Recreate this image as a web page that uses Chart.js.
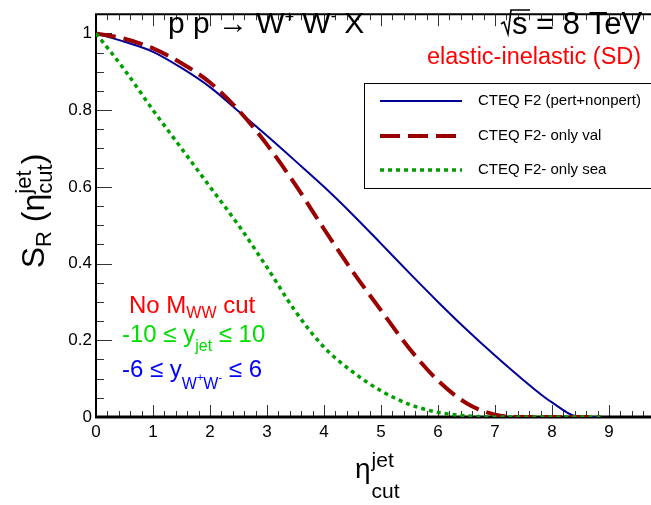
<!DOCTYPE html>
<html>
<head>
<meta charset="utf-8">
<script src="https://cdn.jsdelivr.net/npm/chart.js@4/dist/chart.umd.min.js"></script>
<style>
  html, body { margin: 0; padding: 0; background: #fff; overflow: hidden; }
  #wrap { width: 680px; height: 505px; position: relative; }
</style>
</head>
<body>
<div id="wrap"><canvas id="chart"></canvas></div>
<script>
// eta_cut values (x)
const ETA_CUT = [0, 0.5, 1, 1.5, 2, 2.5, 3, 3.5, 4, 4.5, 5, 5.5, 6, 6.5, 7, 7.5, 8, 8.5, 8.85];

// S_R for each PDF variant
const S_PERT = [1.0, 0.978, 0.952, 0.91, 0.86, 0.797, 0.733, 0.667, 0.600, 0.528, 0.452, 0.375, 0.300, 0.228, 0.160, 0.096, 0.038, 0, 0];
const S_VAL  = [1.0, 0.986, 0.961, 0.922, 0.872, 0.80, 0.71, 0.605, 0.49, 0.38, 0.278, 0.178, 0.095, 0.036, 0.006, 0, 0, 0, 0];
const S_SEA  = [1.0, 0.905, 0.80, 0.70, 0.60, 0.50, 0.39, 0.275, 0.182, 0.118, 0.068, 0.033, 0.012, 0.003, 0, 0, 0, 0, 0];

const LEGEND_LABELS = ['CTEQ F2 (pert+nonpert)', 'CTEQ F2- only val', 'CTEQ F2- only sea'];

const FONT = '"Liberation Sans", Arial, sans-serif';

function pts(ys) { return ETA_CUT.map((x, i) => ({ x, y: ys[i] })); }

// draws a row of text pieces (for sub/superscripts), returns end x
function runs(ctx, x, y, parts, color) {
  for (const p of parts) {
    ctx.font = `${p.size}px ${FONT}`;
    ctx.fillStyle = p.color || color;
    ctx.fillText(p.t, x, y + (p.dy || 0));
    if (!p.noAdvance) x += ctx.measureText(p.t).width;
  }
  return x;
}
function runsWidth(ctx, parts) {
  let w = 0;
  for (const p of parts) {
    ctx.font = `${p.size}px ${FONT}`;
    if (!p.noAdvance) w += ctx.measureText(p.t).width;
  }
  return w;
}

const deco = {
  id: 'deco',
  beforeDatasetsDraw(chart) {
    const ctx = chart.ctx;
    const { left, right, top, bottom } = chart.chartArea;
    const xs = chart.scales.x, ys = chart.scales.y;
    ctx.save();
    // ticks (ROOT style, inside frame)
    ctx.strokeStyle = '#333';
    ctx.lineWidth = 1;
    ctx.beginPath();
    for (let i = 0; i <= 50; i++) {
      const px = Math.round(xs.getPixelForValue(i / 5)) + 0.5;
      const len = i % 5 === 0 ? 12 : 6;
      ctx.moveTo(px, bottom); ctx.lineTo(px, bottom - len);
      ctx.moveTo(px, top); ctx.lineTo(px, top + len);
    }
    for (let i = 0; i <= 21; i++) {
      const py = Math.round(ys.getPixelForValue(i * 0.05)) + 0.5;
      const len = i % 4 === 0 ? 16 : 8;
      ctx.moveTo(left, py); ctx.lineTo(left + len, py);
    }
    ctx.stroke();
    // frame
    ctx.strokeStyle = '#000';
    ctx.lineWidth = 2;
    ctx.beginPath();
    ctx.moveTo(left, bottom); ctx.lineTo(left, top); ctx.lineTo(right, top);
    ctx.stroke();
    ctx.lineWidth = 3;
    ctx.beginPath();
    ctx.moveTo(left - 1, bottom); ctx.lineTo(right, bottom);
    ctx.stroke();
    ctx.restore();
  },
  afterDraw(chart) {
    const ctx = chart.ctx;
    ctx.save();
    ctx.textBaseline = 'alphabetic';
    ctx.textAlign = 'left';

    // process label
    runs(ctx, 168, 33, [
      { t: 'p p \u2192 W', size: 30 },
      { t: '+', size: 16, dy: -11 },
      { t: ' W', size: 30 },
      { t: '-', size: 16, dy: -12 },
      { t: ' X', size: 30 }
    ], '#000');

    // sqrt(s) = 8 TeV
    ctx.strokeStyle = '#000';
    ctx.lineWidth = 1.6;
    ctx.beginPath();
    ctx.moveTo(501, 24); ctx.lineTo(504, 22); ctx.lineTo(508, 34);
    ctx.lineTo(511, 10); ctx.lineTo(530, 10);
    ctx.stroke();
    runs(ctx, 512, 34, [{ t: 's = 8 TeV', size: 31 }], '#000');

    runs(ctx, 427, 64, [{ t: 'elastic-inelastic (SD)', size: 23.5 }], '#ff0000');

    // cuts text
    runs(ctx, 129, 313, [
      { t: 'No M', size: 24 },
      { t: 'WW', size: 16, dy: 5 },
      { t: ' cut', size: 24 }
    ], '#ff0000');
    runs(ctx, 122, 342, [
      { t: '-10 \u2264 y', size: 24 },
      { t: 'jet', size: 16, dy: 9 },
      { t: ' \u2264 10', size: 24 }
    ], '#00dd00');
    runs(ctx, 122, 377, [
      { t: '-6 \u2264 y', size: 24 },
      { t: 'W', size: 16, dy: 12 },
      { t: '+', size: 11, dy: 4 },
      { t: 'W', size: 16, dy: 12 },
      { t: '-', size: 11, dy: 4 },
      { t: ' \u2264 6', size: 24 }
    ], '#0000ff');

    // legend
    ctx.strokeStyle = '#000';
    ctx.lineWidth = 1;
    ctx.strokeRect(364.5, 83.5, 300, 105);
    const rowsY = [101, 136, 170];
    chart.data.datasets.forEach((ds, i) => {
      ctx.save();
      ctx.strokeStyle = ds.borderColor;
      ctx.lineWidth = ds.borderWidth;
      ctx.setLineDash(ds.borderDash || []);
      ctx.beginPath();
      ctx.moveTo(380, rowsY[i]); ctx.lineTo(462, rowsY[i]);
      ctx.stroke();
      ctx.restore();
      ctx.textBaseline = 'middle';
      runs(ctx, 478, rowsY[i], [{ t: LEGEND_LABELS[i], size: 15 }], '#000');
      ctx.textBaseline = 'alphabetic';
    });

    // x title
    let xe = runs(ctx, 355, 478, [{ t: '\u03b7', size: 28 }], '#000');
    runs(ctx, xe + 1, 467, [{ t: 'jet', size: 21 }], '#000');
    runs(ctx, xe + 1, 498, [{ t: 'cut', size: 21 }], '#000');

    // y title, rotated
    const yParts = [
      { t: 'S', size: 32 },
      { t: 'R', size: 22, dy: 7 },
      { t: ' (', size: 32 },
      { t: '\u03b7', size: 32 },
      { t: 'jet', size: 22, dy: -13, noAdvance: true },
      { t: 'cut', size: 22, dy: 8 },
      { t: ')', size: 32 }
    ];
    const w = runsWidth(ctx, yParts);
    ctx.translate(44, 211 + w / 2);
    ctx.rotate(-Math.PI / 2);
    runs(ctx, 0, 0, yParts, '#000');
    ctx.restore();
  }
};

new Chart(document.getElementById('chart'), {
  type: 'line',
  data: {
    datasets: [
      {
        label: LEGEND_LABELS[0], data: pts(S_PERT),
        borderColor: '#000099', borderWidth: 2, order: 3
      },
      {
        label: LEGEND_LABELS[1], data: pts(S_VAL),
        borderColor: '#9a0000', borderWidth: 4, borderDash: [20, 8], order: 2
      },
      {
        label: LEGEND_LABELS[2], data: pts(S_SEA),
        borderColor: '#00a000', borderWidth: 3.5, borderDash: [4, 4], order: 1
      }
    ]
  },
  options: {
    responsive: true,
    maintainAspectRatio: false,
    animation: false,
    layout: { padding: { top: 4, right: 14, left: 0, bottom: 0 } },
    elements: {
      point: { radius: 0 },
      line: { cubicInterpolationMode: 'monotone', fill: false }
    },
    plugins: { legend: { display: false }, tooltip: { enabled: false } },
    scales: {
      x: {
        type: 'linear', min: 0, max: 10,
        grid: { display: false, drawTicks: false },
        border: { display: false },
        ticks: {
          stepSize: 1, padding: 5, color: '#000', maxRotation: 0,
          font: { family: FONT, size: 17 },
          callback: v => (v <= 9 ? String(v) : '')
        },
        afterFit: s => { s.height = 88; }
      },
      y: {
        min: 0, max: 1.05,
        grid: { display: false, drawTicks: false },
        border: { display: false },
        ticks: {
          stepSize: 0.2, includeBounds: false, padding: 4, color: '#000',
          font: { family: FONT, size: 17 },
          callback: v => String(+v.toFixed(2))
        },
        afterFit: s => { s.width = 96; }
      }
    }
  },
  plugins: [deco]
});
</script>
</body>
</html>
